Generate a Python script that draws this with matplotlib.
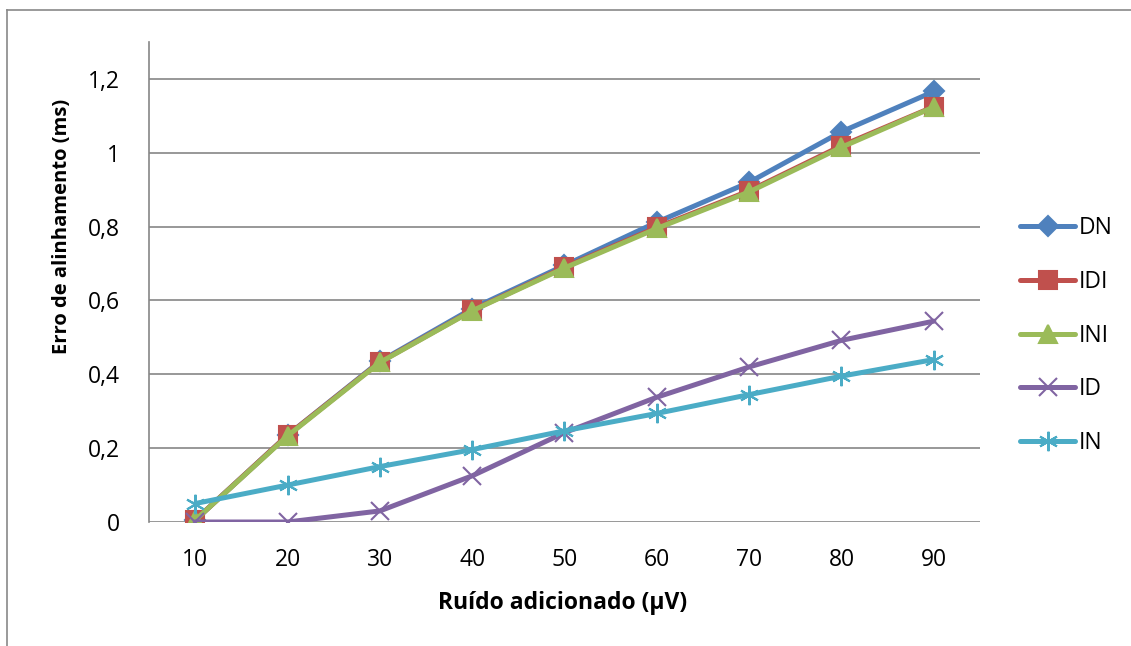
import matplotlib.pyplot as plt
from matplotlib.lines import Line2D

plt.rcParams['font.family'] = ['Open Sans', 'DejaVu Sans']

# dados
ruido = ['10', '20', '30', '40', '50', '60', '70', '80', '90']
DN = [0.005, 0.235, 0.435, 0.578, 0.695, 0.812, 0.920, 1.057, 1.166]
IDI = [0.005, 0.235, 0.433, 0.573, 0.690, 0.798, 0.897, 1.019, 1.125]
INI = [0.005, 0.233, 0.432, 0.572, 0.688, 0.795, 0.894, 1.015, 1.124]
ID = [0.0, 0.0, 0.030, 0.125, 0.242, 0.338, 0.420, 0.492, 0.544]
IN = [0.050, 0.100, 0.150, 0.196, 0.247, 0.294, 0.345, 0.395, 0.440]
yticks = [0, 0.2, 0.4, 0.6, 0.8, 1.0, 1.2]
ylabels = ['0', '0,2', '0,4', '0,6', '0,8', '1', '1,2']

W, H = 1131, 646
fs = 16.5
fig = plt.figure(figsize=(W / 100, H / 100), dpi=100)
ax = fig.add_axes([149 / W, 1 - 522 / H, (980 - 149) / W, (522 - 42) / H])

x = range(len(ruido))
series = [
    ('DN', DN, '#4F81BD', 'D', 10),
    ('IDI', IDI, '#C0504D', 's', 13),
    ('INI', INI, '#9BBB59', '^', 13),
    ('ID', ID, '#8064A2', 'x', 13),
    ('IN', IN, '#4BACC6', (6, 2, 0), 14),
]
for nome, vals, cor, mk, ms in series:
    ax.plot(x, vals, color=cor, lw=3.6, marker=mk, ms=ms, mew=1.5,
            mec=cor, mfc=cor, label=nome, solid_capstyle='round', zorder=3)

ax.set_xlim(-0.5, 8.5)
ax.set_ylim(0, 1.3)
ax.set_xticks(list(x))
ax.set_xticklabels(ruido)
ax.set_yticks(yticks)
ax.set_yticklabels(ylabels)
ax.tick_params(length=0, labelsize=fs)
ax.tick_params(axis='x', pad=19)
ax.tick_params(axis='y', pad=21)
ax.yaxis.grid(True, color='#868686', lw=1.2)
ax.set_axisbelow(True)
for s in ['top', 'right', 'bottom']:
    ax.spines[s].set_visible(False)
ax.spines['left'].set_color('#868686')
ax.spines['left'].set_linewidth(1.2)

fig.text(62 / W, 1 - 226 / H, 'Erro de alinhamento (ms)', rotation=90,
         ha='center', va='center', fontsize=14.5, fontweight='bold')
fig.text(563 / W, 1 - 603 / H, 'Ruído adicionado (µV)',
         ha='center', va='center', fontsize=fs, fontweight='bold')

ax.legend(loc='upper left', bbox_to_anchor=(1020 / W, 1 - 216 / H),
          bbox_transform=fig.transFigure, frameon=False, fontsize=fs,
          handlelength=2.4, handletextpad=0.18, labelspacing=1.3,
          borderaxespad=0, borderpad=0)

# moldura do gráfico
fig.add_artist(Line2D([7 / W, 7 / W], [0, 1 - 10 / H], color='#898989',
                      lw=1.2, transform=fig.transFigure))
fig.add_artist(Line2D([7 / W, 1], [1 - 10 / H, 1 - 10 / H], color='#898989',
                      lw=1.2, transform=fig.transFigure))

fig.savefig('out.png', dpi=100)
